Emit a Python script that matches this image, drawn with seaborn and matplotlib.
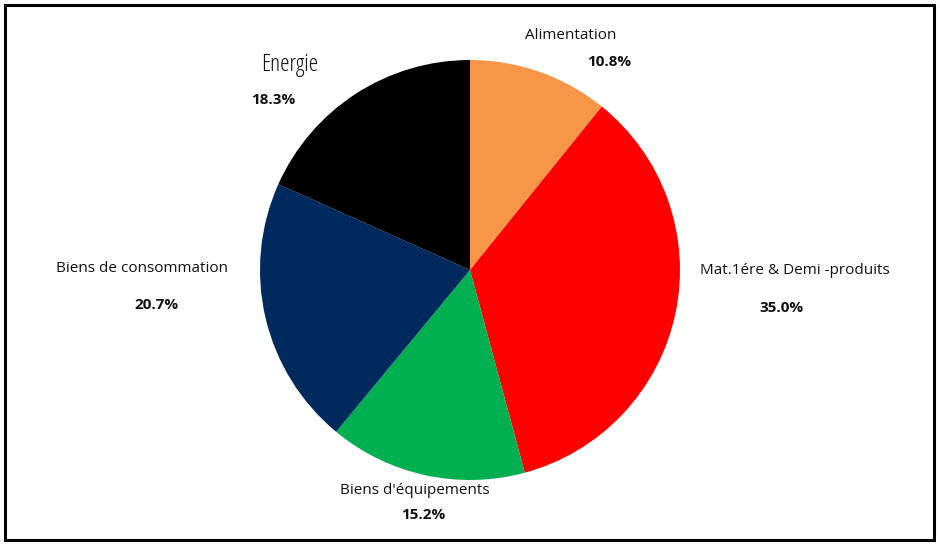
import matplotlib
matplotlib.use("Agg")
import matplotlib.pyplot as plt
import seaborn as sns
from matplotlib.patches import Rectangle

categories = ["Alimentation", "Mat.1ére & Demi -produits", "Biens d'équipements",
              "Biens de consommation", "Energie"]
shares = [10.8, 35.0, 15.2, 20.7, 18.3]
colors = ["#F79646", "#FF0000", "#00B050", "#002A5E", "#000000"]

# label layout (pixel positions of name / percentage centres)
name_pos = [(571, 35), (795, 270), (415, 491), (142, 268), (290, 65)]
pct_pos = [(609, 62), (781, 308), (423, 515), (156, 305), (273, 100)]

sns.set_theme(style="white")
plt.rcParams['font.family'] = ['Open Sans', 'DejaVu Sans']

W, H = 940, 545
fig = plt.figure(figsize=(W / 100, H / 100), dpi=100)
fig.patch.set_facecolor("white")

cx, cy, r = 470, 270, 210
ax = fig.add_axes([(cx - r) / W, 1 - (cy + r) / H, 2 * r / W, 2 * r / H])
palette = sns.color_palette(colors)
ax.pie(shares, colors=palette, startangle=90, counterclock=False,
       wedgeprops=dict(linewidth=0))
ax.set_xlim(-1, 1)
ax.set_ylim(-1, 1)
ax.set_aspect("equal")
ax.axis("off")

for i, (cat, val) in enumerate(zip(categories, shares)):
    nx, ny = name_pos[i]
    px, py = pct_pos[i]
    if cat == "Energie":
        fig.text(nx / W, 1 - ny / H, cat, ha="center", va="center",
                 fontsize=17, fontstretch="condensed",
                 family=['Liberation Sans Narrow', 'Open Sans', 'DejaVu Sans'],
                 color="#111111")
    else:
        fig.text(nx / W, 1 - ny / H, cat, ha="center", va="center",
                 fontsize=11, color="#111111")
    fig.text(px / W, 1 - py / H, f"{val:.1f}%", ha="center", va="center",
             fontsize=11, fontweight="bold", color="#111111")

fig.patches.append(Rectangle((5 / W, 1 - 540 / H), 929 / W, 535 / H,
                             transform=fig.transFigure, fill=False,
                             edgecolor="black", linewidth=2.2))

fig.savefig("out.png", dpi=100, facecolor="white")
